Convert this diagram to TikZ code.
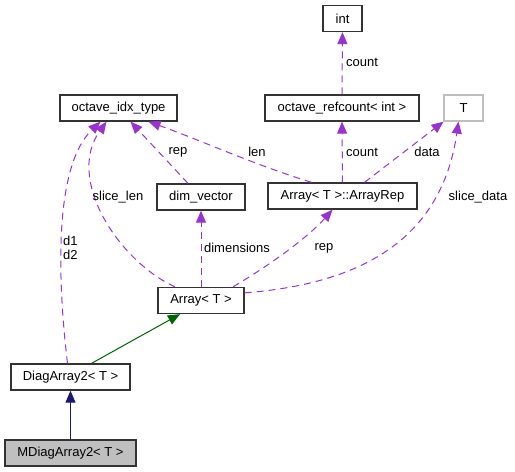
\documentclass[tikz,border=0pt]{standalone}
\usepackage{fontspec}
\setmainfont{Liberation Sans}
\usetikzlibrary{arrows.meta}
\definecolor{edgepurple}{HTML}{9A32CD}
\definecolor{edgegreen}{HTML}{006400}
\definecolor{edgenavy}{HTML}{191970}
\definecolor{boxgray}{HTML}{BFBFBF}
\tikzset{
  box/.style={draw=black!80, line width=1.3pt, fill=white, inner sep=0pt, minimum height=26pt, font=\fontsize{13}{15}\selectfont},
  usage/.style={draw=edgepurple, line width=1pt, dash pattern=on 7pt off 5pt, -{Triangle[length=12pt,width=10pt]}},
  inherit/.style={line width=1pt, -{Triangle[length=12pt,width=10pt]}},
  lbl/.style={font=\fontsize{13}{15}\selectfont, inner sep=0pt}
}
\begin{document}
\begin{tikzpicture}[x=1pt,y=-1pt]
\useasboundingbox (0,0) rectangle (515,472);
% nodes
\node[box, minimum width=39pt] (int) at (342.5,18.5) {int};
\node[box, minimum width=154pt] (orc) at (342,108) {octave\_refcount< int >};
\node[box, draw=black!25, minimum width=39pt] (T) at (463.5,108) {T};
\node[box, minimum width=117pt] (oit) at (118.5,108) {octave\_idx\_type};
\node[box, minimum width=88pt] (dim) at (201,197) {dim\_vector};
\node[box, minimum width=149pt] (rep) at (342.5,196) {Array< T >::ArrayRep};
\node[box, minimum width=86pt] (arr) at (201,300.5) {Array< T >};
\node[box, minimum width=119pt] (dia) at (70.5,377) {DiagArray2< T >};
\node[box, fill=boxgray, minimum width=131pt] (mdia) at (70.5,453) {MDiagArray2< T >};
% usage edges
\draw[usage] (orc.north) -- (int.south);
\node[lbl] (l1) at (362,62) {count};
\draw[usage] (rep.north) -- (orc.south);
\node[lbl] (l2) at (362,152) {count};
\draw[usage] ([xshift=22pt]rep.north) -- ([xshift=-20pt]T.south);
\node[lbl] (l3) at (427,152) {data};
\draw[usage] ([xshift=-31pt]rep.north) .. controls (255,165) and (200,140) .. ([xshift=30pt]oit.south);
\node[lbl] (l4) at (257,152) {len};
\draw[usage] ([xshift=-13pt]dim.north) -- ([xshift=12pt]oit.south);
\node[lbl] (l5) at (178,152) {rep};
\draw[usage] ([xshift=-26pt]arr.north) .. controls (120,262) and (65,180) .. ([xshift=-12pt]oit.south);
\node[lbl] (l6) at (118,197) {slice\_len};
\draw[usage] (arr.north) -- (dim.south);
\node[lbl] (l7) at (237,248) {dimensions};
\draw[usage] ([xshift=32pt]arr.north) .. controls (275,262) and (310,235) .. ([xshift=-10pt]rep.south);
\node[lbl] (l8) at (324,248) {rep};
\draw[usage] ([yshift=-6pt]arr.north east) .. controls (345,285) and (440,250) .. ([xshift=-5pt]T.south);
\node[lbl] (l9) at (478,197) {slice\_data};
\draw[usage] ([xshift=-3pt]dia.north) .. controls (60,300) and (50,170) .. ([xshift=-18pt]oit.south);
\node[lbl, align=left, anchor=west] (l10) at (63,248) {d1\\[-1pt]d2};
% inheritance edges
\draw[inherit, edgegreen] ([xshift=21pt]dia.north) -- ([xshift=-21pt]arr.south);
\draw[inherit, edgenavy] (mdia.north) -- (dia.south);
\end{tikzpicture}
\end{document}
